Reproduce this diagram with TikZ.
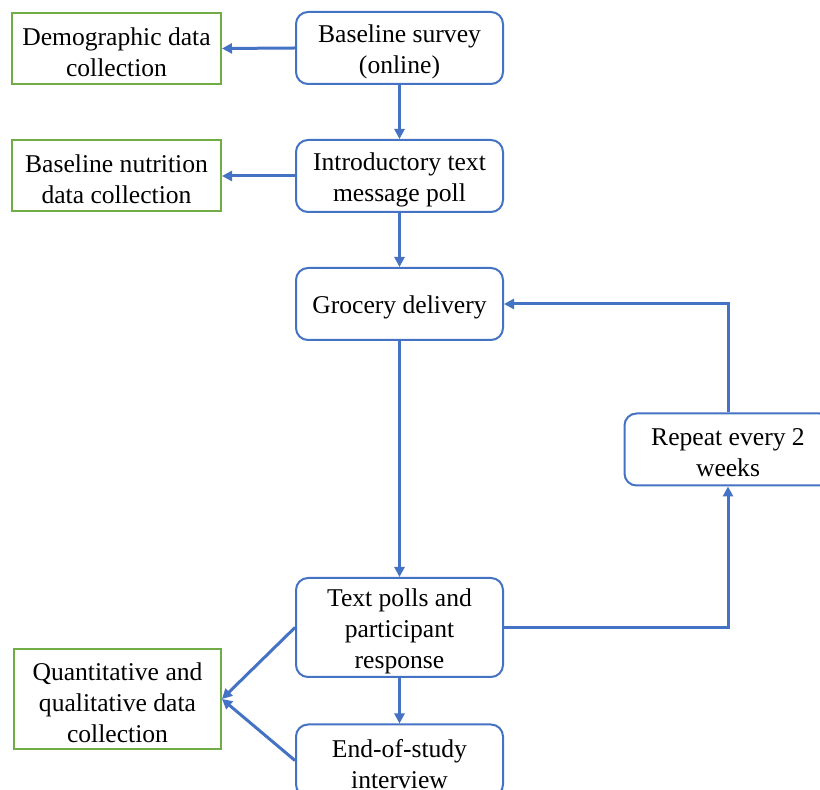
\documentclass[tikz,border=0pt]{standalone}
\usepackage{fontspec}
\setmainfont{Liberation Serif}
\usetikzlibrary{arrows.meta}
\definecolor{bl}{HTML}{4472C4}
\definecolor{gr}{HTML}{70AD47}
\begin{document}
\begin{tikzpicture}[x=0.5pt,y=-0.5pt,
  txt/.style={align=center,font=\fontsize{12.8}{15.5}\selectfont,inner sep=0pt},
  tx/.style={label={[txt,yshift=-1.8pt]center:#1}},
  bbox/.style={draw=bl,line width=1pt,rounded corners=6pt,minimum width=103.5pt,minimum height=36pt,inner sep=0pt},
  gbox/.style={draw=gr,line width=1pt,minimum width=104.5pt,minimum height=35.5pt,inner sep=0pt},
  arr/.style={draw=bl,line width=1.5pt,-{Triangle[length=5pt,width=5pt]}}]
\useasboundingbox (0,0) rectangle (820,790);
\clip (0,0) rectangle (820,790);
\node[bbox,tx={Baseline survey\\(online)}] (bs) at (399.5,48) {};
\node[bbox,tx={Introductory text\\message poll}] (it) at (399.5,176) {};
\node[bbox,tx={Grocery delivery}] (gd) at (399.5,304) {};
\node[bbox,minimum height=49.5pt,tx={Text polls and\\participant\\response}] (tp) at (399.5,627.5) {};
\node[bbox,tx={End-of-study\\interview}] (es) at (399.5,760.5) {};
\node[bbox,tx={Repeat every 2\\weeks}] (rp) at (728,449.5) {};
\node[gbox,tx={Demographic data\\collection}] (dm) at (116.5,48.5) {};
\node[gbox,tx={Baseline nutrition\\data collection}] (bn) at (116.5,176) {};
\node[gbox,minimum width=103.5pt,minimum height=50pt,tx={Quantitative and\\qualitative data\\collection}] (qd) at (117.5,699) {};
\draw[arr] (bs.west) -- (dm.east);
\draw[arr] (it.west) -- (bn.east);
\draw[arr] (bs.south) -- (it.north);
\draw[arr] (it.south) -- (gd.north);
\draw[arr] (gd.south) -- (tp.north);
\draw[arr] (tp.east) -| (rp.south);
\draw[arr] (rp.north) |- (gd.east);
\draw[arr] (tp.south) -- (es.north);
\draw[arr] (tp.west) -- (qd.east);
\draw[arr] (es.west) -- (qd.east);
\end{tikzpicture}
\end{document}
